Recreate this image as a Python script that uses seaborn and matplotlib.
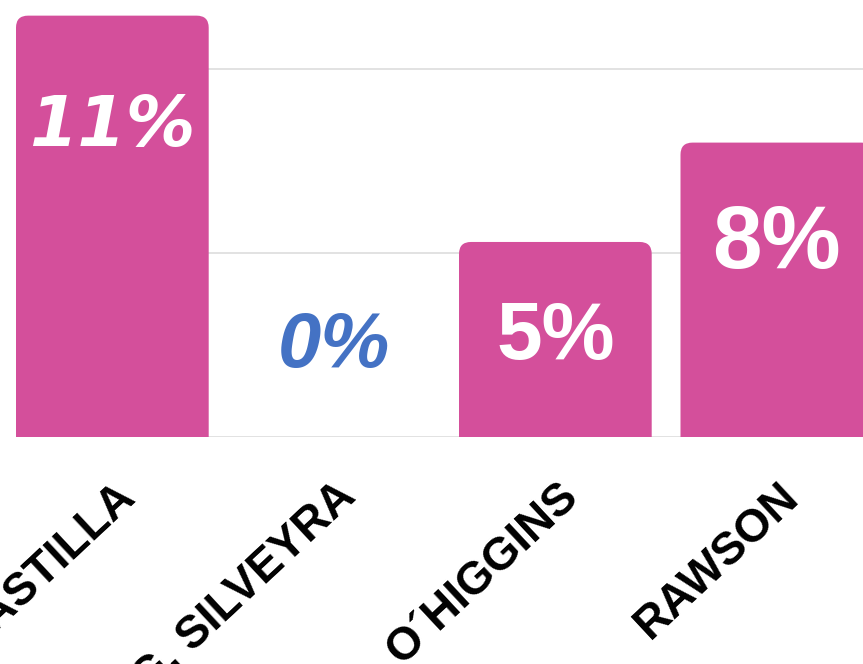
import matplotlib
matplotlib.use("Agg")
import matplotlib.pyplot as plt
import matplotlib.transforms as mtransforms
from matplotlib.patches import FancyBboxPatch
import seaborn as sns
import pandas as pd

categories = ["CASTILLA", "ING. SILVEYRA", "O´HIGGINS", "RAWSON"]
values = [11.45, 0.0, 5.3, 8.0]
value_labels = ["11%", "0%", "5%", "8%"]

BAR = "#d44f9b"
sns.set_theme(style="white")
plt.rcParams['font.family'] = ['Liberation Sans', 'DejaVu Sans']

W, H = 863, 664
fig = plt.figure(figsize=(W / 100, H / 100), dpi=100)
base_px = 437
left_px = 16
ax = fig.add_axes([left_px / W, (H - base_px) / H, 1 - left_px / W, base_px / H])

df = pd.DataFrame({"cat": categories, "val": values})
sns.barplot(data=df, x="cat", y="val", color=BAR, saturation=1, width=0.87, ax=ax)

px_per_x = 221.5
xmin = -0.435
ax.set_xlim(xmin, xmin + (W - left_px) / px_per_x)
ymax = 11.875
ax.set_ylim(0, ymax)
px_per_y = base_px / ymax

# rounded tops
asp = px_per_x / px_per_y
r = 12 / px_per_x
for p in list(ax.patches):
    x, w, h = p.get_x(), p.get_width(), p.get_height()
    if h > 0:
        fb = FancyBboxPatch((x, -1), w, h + 1,
                            boxstyle=f"round,pad=0,rounding_size={r}",
                            mutation_aspect=asp, fc=BAR, ec="none", zorder=2)
        ax.add_patch(fb)
    p.remove()

ax.set_yticks([0, 5, 10])
ax.yaxis.grid(True, color="#e2e2e2", lw=1.4)
ax.set_axisbelow(True)
ax.tick_params(axis="y", left=False, labelleft=False)
ax.tick_params(axis="x", bottom=False, pad=0)
for s in ax.spines.values():
    s.set_visible(False)
ax.set_xlabel("")
ax.set_ylabel("")

ax.set_xticks(range(len(categories)))
ax.set_xticklabels(categories, rotation=43, ha="right", va="top",
                   rotation_mode="default", fontsize=33, fontweight="bold",
                   color="black")
off = mtransforms.ScaledTranslation(31 / 100, -29 / 100, fig.dpi_scale_trans)
for lab in ax.get_xticklabels():
    lab.set_transform(lab.get_transform() + off)

colors = ["white", "#4472c4", "white", "white"]
sizes = [50, 56, 59, 64]
fams = [["DejaVu Sans"], ["Liberation Sans"], ["Liberation Sans"], ["Liberation Sans"]]
styles = ["oblique", "italic", "normal", "normal"]
for i, (v, lab) in enumerate(zip(values, value_labels)):
    if v > 0:
        h_px = v * px_per_y
        dy = -(83 + 0.066 * h_px) * 0.72
    else:
        dy = 91 * 0.72
    ax.annotate(lab, xy=(i, v), xytext=(0, dy), textcoords="offset points",
                ha="center", va="center", color=colors[i], fontsize=sizes[i],
                fontweight="bold", fontstyle=styles[i], family=fams[i], zorder=3)

fig.savefig("out.png", dpi=100)
